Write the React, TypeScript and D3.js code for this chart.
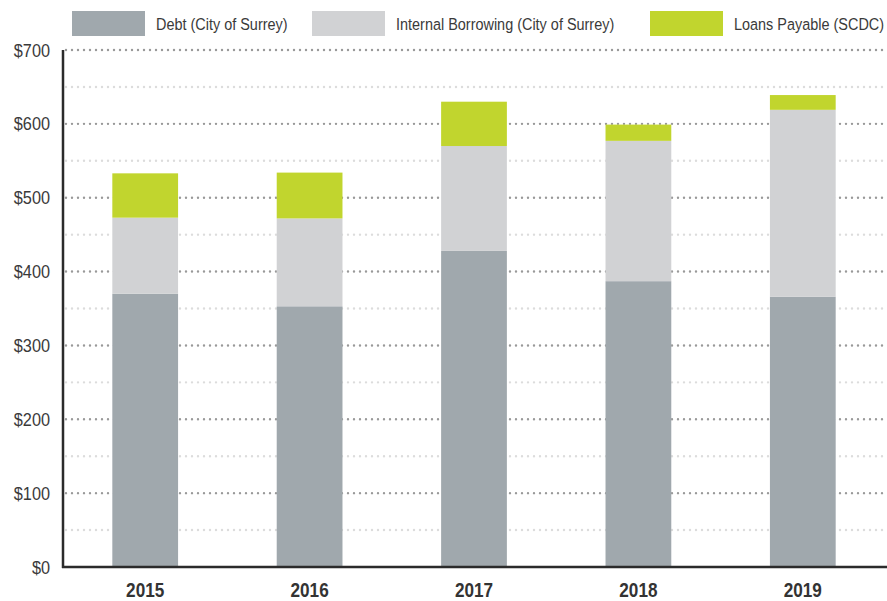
import { useRef, useEffect } from "react";
import * as d3 from "d3";

const YEARS = ["2015", "2016", "2017", "2018", "2019"];
const DEBT = [370, 353, 428, 387, 366];
const INTERNAL = [103, 119, 142, 190, 253];
const LOANS = [60, 62, 60, 22, 20];
const SERIES_NAMES = ["Debt (City of Surrey)", "Internal Borrowing (City of Surrey)", "Loans Payable (SCDC)"];
const COLORS = ["#a0a8ad", "#d1d2d4", "#c1d52e"];
const Y_TICKS = [0, 100, 200, 300, 400, 500, 600, 700];

const W = 887;
const H = 601;
const FONT = "'Liberation Sans', Arial, sans-serif";
// condensed look: squeeze text horizontally
const SQUEEZE = 0.88;

export default function App() {
  const svgRef = useRef<SVGSVGElement>(null);

  useEffect(() => {
    if (!svgRef.current) return;
    const svg = d3.select(svgRef.current);
    svg.selectAll("*").remove();

    const margin = { top: 50, right: 2, bottom: 34, left: 63 };
    const chartW = W - margin.left - margin.right;
    const chartH = H - margin.top - margin.bottom;

    const g = svg.append("g").attr("transform", `translate(${margin.left},${margin.top})`);

    const x = d3.scaleBand().domain(YEARS).range([0, chartW]).paddingInner(0.6).paddingOuter(0.3);
    const y = d3.scaleLinear().domain([0, 700]).range([chartH, 0]);

    // Grid: minor at 50s, major at 100s
    const minor = d3.range(50, 700, 100);
    g.append("g")
      .selectAll("line")
      .data(minor)
      .join("line")
      .attr("x1", 3).attr("x2", chartW)
      .attr("y1", (d) => y(d)).attr("y2", (d) => y(d))
      .attr("stroke", "#dcdcdc").attr("stroke-width", 2.4)
      .attr("stroke-linecap", "round").attr("stroke-dasharray", "0,6");

    g.append("g")
      .selectAll("line")
      .data(Y_TICKS.filter((d) => d > 0))
      .join("line")
      .attr("x1", 3).attr("x2", chartW)
      .attr("y1", (d) => y(d)).attr("y2", (d) => y(d))
      .attr("stroke", "#999999").attr("stroke-width", 2.4)
      .attr("stroke-linecap", "round").attr("stroke-dasharray", "0,6");

    // Stacked bars
    const rows = YEARS.map((year, i) => ({ year, debt: DEBT[i], internal: INTERNAL[i], loans: LOANS[i] }));
    const stack = d3.stack<any>().keys(["debt", "internal", "loans"])(rows);

    g.append("g")
      .selectAll("g")
      .data(stack)
      .join("g")
      .attr("fill", (_, i) => COLORS[i])
      .selectAll("rect")
      .data((s) => s)
      .join("rect")
      .attr("x", (d) => x(d.data.year) || 0)
      .attr("width", x.bandwidth())
      .attr("y", (d) => y(d[1]))
      .attr("height", (d) => y(d[0]) - y(d[1]));

    // Axes
    g.append("line")
      .attr("x1", 0).attr("x2", 0).attr("y1", 0).attr("y2", chartH + 1)
      .attr("stroke", "#2b2b2b").attr("stroke-width", 2.5);
    g.append("line")
      .attr("x1", -1).attr("x2", chartW + 2).attr("y1", chartH).attr("y2", chartH)
      .attr("stroke", "#2b2b2b").attr("stroke-width", 2.5);

    // Y labels
    g.append("g")
      .selectAll("text")
      .data(Y_TICKS)
      .join("text")
      .attr("transform", (d) => `translate(-13,${y(d) + 6.6}) scale(${SQUEEZE},1)`)
      .attr("text-anchor", "end")
      .style("font-family", FONT)
      .style("font-size", "18.5px")
      .style("fill", "#3a3a3a")
      .text((d) => `$${d}`);

    // X labels
    g.append("g")
      .selectAll("text")
      .data(YEARS)
      .join("text")
      .attr("transform", (d) => `translate(${(x(d) || 0) + x.bandwidth() / 2},${chartH + 30}) scale(${SQUEEZE},1)`)
      .attr("text-anchor", "middle")
      .style("font-family", FONT)
      .style("font-size", "19.5px")
      .style("font-weight", "bold")
      .style("fill", "#333")
      .text((d) => d);

    // Legend
    const legendX = [72, 312, 650];
    SERIES_NAMES.forEach((name, i) => {
      const lg = svg.append("g").attr("transform", `translate(${legendX[i]},11)`);
      lg.append("rect").attr("width", 73).attr("height", 25).attr("fill", COLORS[i]);
      lg.append("text")
        .attr("transform", `translate(84,18.5) scale(0.86,1)`)
        .style("font-family", FONT)
        .style("font-size", "16.8px")
        .style("fill", "#3a3a3a")
        .text(name);
    });
  }, []);

  return (
    <svg
      ref={svgRef}
      width={W}
      height={H}
      style={{ position: "fixed", left: 0, top: 0, display: "block", background: "#fff" }}
    />
  );
}
